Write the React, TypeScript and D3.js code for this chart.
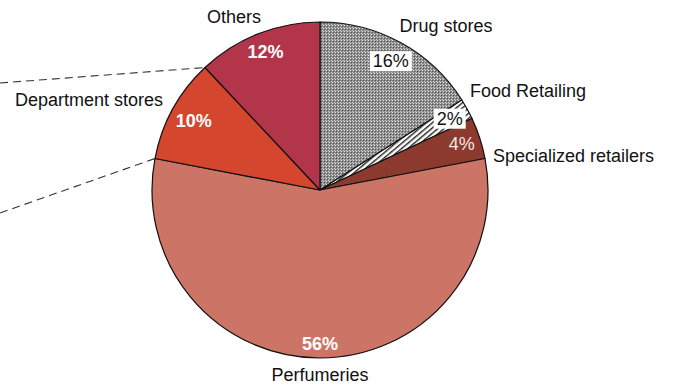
import React, { useEffect, useRef } from "react";
import * as d3 from "d3";

const categories = ["Drug stores", "Food Retailing", "Specialized retailers", "Perfumeries", "Department stores", "Others"];
const values = [16, 2, 4, 56, 10, 12];
const valueLabels = ["16%", "2%", "4%", "56%", "10%", "12%"];

const W = 677, H = 387;
const CX = 320, CY = 190, R = 168;

const fills = ["url(#dots)", "url(#hatch)", "#8B3A2D", "#CC7566", "#D5462F", "#B3354A"];
// inner label style: [radius, fill, weight, boxed]
const innerStyle: [number, string, string, boolean][] = [
  [147, "#111", "normal", true],
  [148, "#111", "normal", true],
  [149, "#f3e6e3", "normal", false],
  [154, "#ffffff", "bold", false],
  [144, "#ffffff", "bold", false],
  [148, "#ffffff", "bold", false],
];
// outer label layout: x, baseline y, anchor
const outerLayout: [number, number, string][] = [
  [446, 32, "middle"],
  [470, 97, "start"],
  [493, 162, "start"],
  [320, 381, "middle"],
  [89, 106, "middle"],
  [234, 23, "middle"],
];
const connectorStarts = [83, 213];

export default function App() {
  const ref = useRef<SVGSVGElement>(null);
  useEffect(() => {
    const svg = d3.select(ref.current);
    svg.selectAll("*").remove();
    const defs = svg.append("defs");
    const dots = defs.append("pattern").attr("id", "dots").attr("width", 3).attr("height", 3).attr("patternUnits", "userSpaceOnUse");
    dots.append("rect").attr("width", 3).attr("height", 3).attr("fill", "#8a8a8a");
    dots.append("rect").attr("x", 0).attr("y", 0).attr("width", 1).attr("height", 1).attr("fill", "#e0e0e0");
    dots.append("rect").attr("x", 1).attr("y", 1).attr("width", 1).attr("height", 1).attr("fill", "#555");
    dots.append("rect").attr("x", 2).attr("y", 2).attr("width", 1).attr("height", 1).attr("fill", "#c8c8c8");
    const hatch = defs.append("pattern").attr("id", "hatch").attr("width", 4).attr("height", 4).attr("patternUnits", "userSpaceOnUse").attr("patternTransform", "rotate(-40)");
    hatch.append("rect").attr("width", 4).attr("height", 4).attr("fill", "#ffffff");
    hatch.append("rect").attr("width", 4).attr("height", 1.4).attr("fill", "#222");

    const pie = d3.pie<number>().sort(null).value((d) => d);
    const arcs = pie(values);
    const arc = d3.arc<d3.PieArcDatum<number>>().innerRadius(0).outerRadius(R);
    const g = svg.append("g").attr("transform", `translate(${CX},${CY})`);

    const bIdx = [5, 4];
    connectorStarts.forEach((sy, i) => {
      const a = arcs[bIdx[i]].startAngle;
      const ex = CX + R * Math.sin(a), ey = CY - R * Math.cos(a);
      svg.append("line").attr("x1", 0).attr("y1", sy).attr("x2", ex).attr("y2", ey)
        .attr("stroke", "#333").attr("stroke-width", 1.1).attr("stroke-dasharray", "8,5");
    });

    g.selectAll("path.slice").data(arcs).enter().append("path")
      .attr("d", arc as any)
      .attr("fill", (_d, i) => fills[i])
      .attr("stroke", "#111").attr("stroke-width", 1.2).attr("stroke-linejoin", "round");

    const font = "'Liberation Sans', Arial, sans-serif";
    arcs.forEach((d, i) => {
      const mid = (d.startAngle + d.endAngle) / 2;
      const [r, fill, weight, boxed] = innerStyle[i];
      const x = CX + r * Math.sin(mid), y = CY - r * Math.cos(mid);
      const t = svg.append("text").attr("x", x).attr("y", y).attr("text-anchor", "middle")
        .attr("dominant-baseline", "central").attr("font-family", font).attr("font-size", 18)
        .attr("font-weight", weight).attr("fill", fill).text(valueLabels[i]);
      if (boxed) {
        const bb = (t.node() as SVGTextElement).getBBox();
        svg.insert("rect", () => t.node() as any).attr("x", bb.x - 3).attr("y", bb.y).attr("width", bb.width + 6).attr("height", bb.height).attr("fill", "#fff");
      }
      const [ox, oy, anchor] = outerLayout[i];
      svg.append("text").attr("x", ox).attr("y", oy).attr("text-anchor", anchor)
        .attr("font-family", font).attr("font-size", 18).attr("fill", "#111").text(categories[i]);
    });
  }, []);
  return (
    <svg ref={ref} width={W} height={H} style={{ position: "absolute", left: 0, top: 0, background: "#fff" }} />
  );
}
